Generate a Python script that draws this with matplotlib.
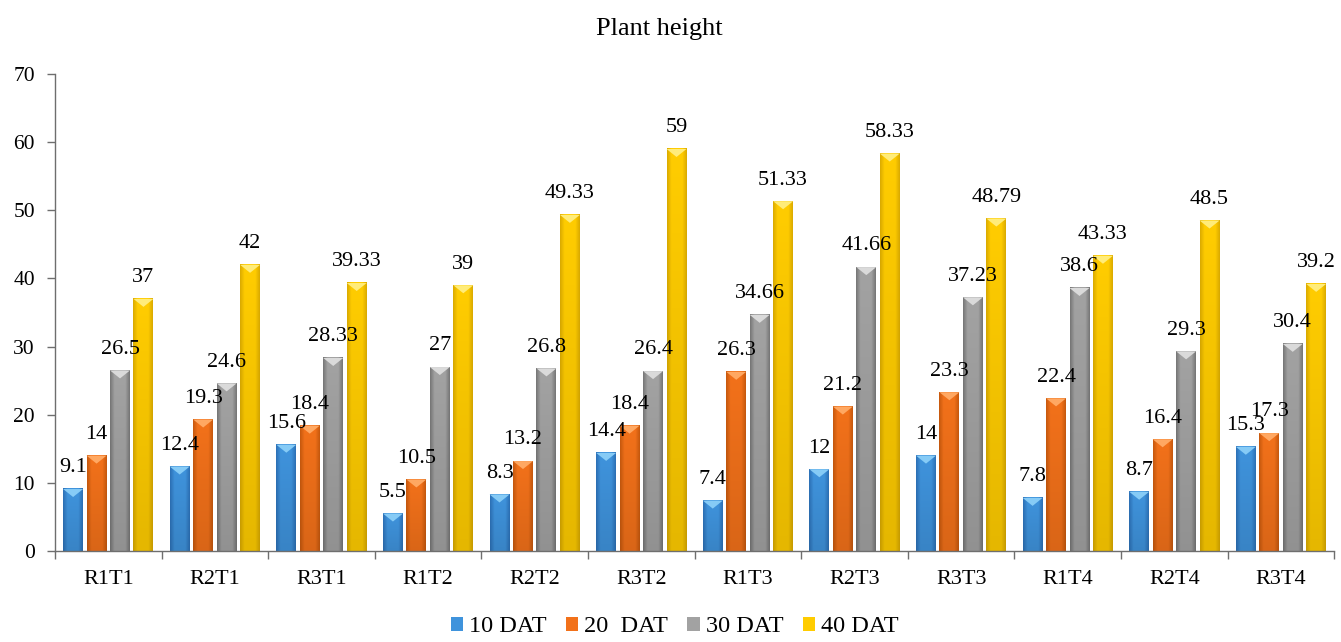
import numpy as np
import matplotlib.pyplot as plt
from matplotlib.patches import Polygon
from matplotlib.colors import to_rgb

# Plant height per treatment at four sampling dates
treatments = ["R1T1", "R2T1", "R3T1", "R1T2", "R2T2", "R3T2",
              "R1T3", "R2T3", "R3T3", "R1T4", "R2T4", "R3T4"]
dat10 = [9.1, 12.4, 15.6, 5.5, 8.3, 14.4, 7.4, 12, 14, 7.8, 8.7, 15.3]
dat20 = [14, 19.3, 18.4, 10.5, 13.2, 18.4, 26.3, 21.2, 23.3, 22.4, 16.4, 17.3]
dat30 = [26.5, 24.6, 28.33, 27, 26.8, 26.4, 34.66, 41.66, 37.23, 38.6, 29.3, 30.4]
dat40 = [37, 42, 39.33, 39, 49.33, 59, 51.33, 58.33, 48.79, 43.33, 48.5, 39.2]
series_names = ["10 DAT", "20  DAT", "30 DAT", "40 DAT"]
series_vals = [dat10, dat20, dat30, dat40]

# base / highlight / shadow colour for each series
palette = [
    ("#3f93dc", "#86cbf6", "#2d72b8"),
    ("#f2711a", "#ffa862", "#c95a0e"),
    ("#a2a2a2", "#dadada", "#787878"),
    ("#ffcc00", "#ffec7a", "#dcac00"),
]

plt.rcParams["font.family"] = ["Liberation Serif", "DejaVu Serif"]

fig = plt.figure(figsize=(13.41, 6.42), dpi=100)
ax = fig.add_axes([0.041, 0.1417, 0.954, 0.743])

x = np.arange(len(treatments))
width = 0.187
step = 0.22
ymax = 70
ax.set_xlim(-0.5, len(treatments) - 0.5)
ax.set_ylim(0, ymax)

# pixels per data unit, used to size the bevel on each bar top
px_per_y = fig.get_figheight() * fig.dpi * 0.743 / ymax
bevel = 8 / px_per_y


def shaded_bar(x0, h, base, light, dark):
    b = np.array(to_rgb(base))
    d = np.array(to_rgb(dark))
    n = 24
    t = np.linspace(0, 1, n)
    # darker along both side edges, flat in the middle
    edge = np.clip(1 - np.minimum(t, 1 - t) / 0.22, 0, 1)
    row = b[None, :] + (d - b)[None, :] * edge[:, None]
    m = 20
    v = np.linspace(1.0, 0.9, m)[:, None, None]
    img = np.clip(row[None, :, :] * v, 0, 1)
    ax.imshow(img, extent=(x0, x0 + width, 0, h), origin="upper",
              aspect="auto", interpolation="bilinear", zorder=2)
    top = Polygon([(x0, h), (x0 + width, h), (x0 + width / 2, h - bevel)],
                  closed=True, facecolor=light, edgecolor="none", zorder=3)
    ax.add_patch(top)


handles = []
for i, (vals, name, cols) in enumerate(zip(series_vals, series_names, palette)):
    pos = x + (i - 1.5) * step
    bars = ax.bar(pos, vals, width, color=cols[0], edgecolor="none",
                  label=name, zorder=1)
    handles.append(bars)
    for p, v in zip(pos, vals):
        shaded_bar(p - width / 2, v, *cols)
        ax.annotate(f"{v:g}", xy=(p, v), xytext=(0, 12),
                    textcoords="offset points", ha="center", va="baseline",
                    fontsize=16, color="black", zorder=4)

ax.set_xlim(-0.5, len(treatments) - 0.5)
ax.set_ylim(0, ymax)

# axes styling
for side in ("top", "right"):
    ax.spines[side].set_visible(False)
for side in ("left", "bottom"):
    ax.spines[side].set_color("#6e6e6e")
    ax.spines[side].set_linewidth(1.0)

ax.set_yticks(np.arange(0, ymax + 1, 10))
ax.tick_params(axis="y", length=6, width=1, color="#6e6e6e", pad=8.5,
               labelsize=15.5, direction="out")
ax.set_xticks(x)
ax.set_xticklabels(treatments)
ax.tick_params(axis="x", length=0, pad=14, labelsize=16)
ax.set_xticks(np.arange(-0.5, len(treatments)), minor=True)
ax.tick_params(axis="x", which="minor", length=6, width=1, color="#6e6e6e",
               direction="out")

fig.text(0.492, 0.955, "Plant height", ha="center", va="center", fontsize=19)

fig.legend(handles=handles, labels=series_names, loc="lower center",
           bbox_to_anchor=(0.503, -0.027), ncol=4, frameon=False,
           fontsize=17.5, handlelength=0.5, handleheight=0.5,
           handletextpad=0.25, columnspacing=0.8)

fig.savefig("out.png", dpi=100)
